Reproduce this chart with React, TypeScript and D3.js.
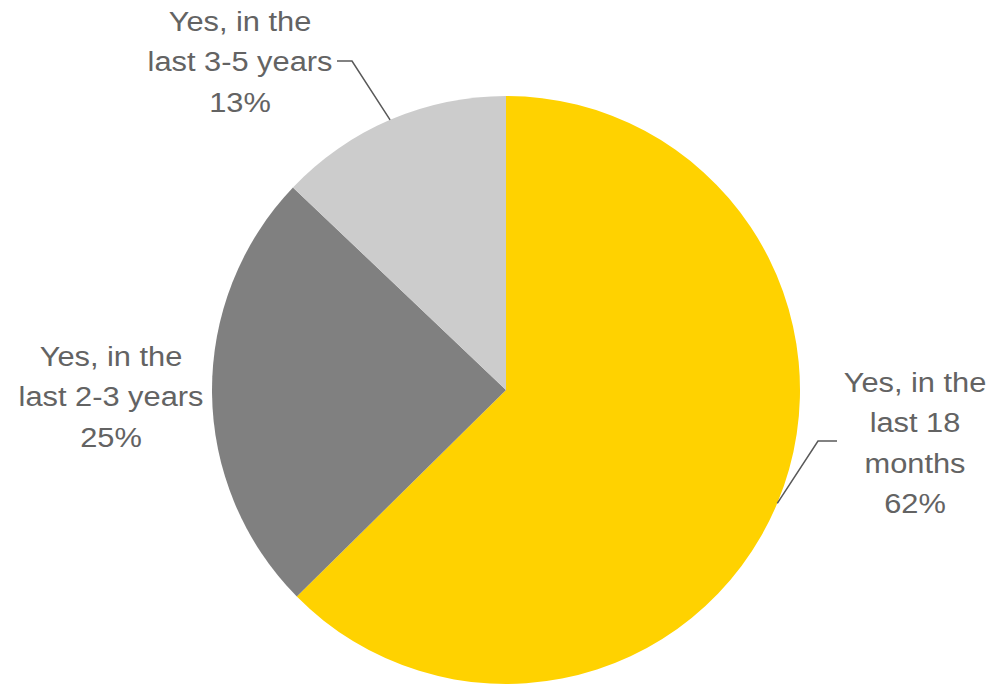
import React from "react";
import * as d3 from "d3";

const categories = ["Yes, in the last 18 months", "Yes, in the last 2-3 years", "Yes, in the last 3-5 years"];
const values = [62.6, 24.5, 12.9];
const labelLines = [
  ["Yes, in the", "last 18", "months", "62%"],
  ["Yes, in the", "last 2-3 years", "25%"],
  ["Yes, in the", "last 3-5 years", "13%"],
];
const colors = ["#FFD200", "#808080", "#CCCCCC"];

export default function App() {
  const W = 994, H = 685;
  const cx = 506, cy = 390, r = 294;
  const pie = d3.pie<number>().sort(null).value((d) => d);
  const arcs = pie(values);
  const arc = d3.arc<d3.PieArcDatum<number>>().innerRadius(0).outerRadius(r);
  const edge = d3.arc<d3.PieArcDatum<number>>().innerRadius(r).outerRadius(r);

  const layout = [
    { x: 915, y: 392, leader: { elbowX: 818, elbowY: 441, endX: 837 } },
    { x: 111, y: 366, leader: null },
    { x: 240, y: 31, leader: { elbowX: 352, elbowY: 61, endX: 337 } },
  ];
  const lineH = 40.3;

  return (
    <svg width={W} height={H} style={{ position: "absolute", left: 0, top: 0 }}>
      <rect width={W} height={H} fill="#fff" />
      <g transform={`translate(${cx},${cy})`}>
        {arcs.map((a, i) => (
          <path key={categories[i]} d={arc(a) || ""} fill={colors[i]} />
        ))}
      </g>
      {arcs.map((a, i) => {
        const L = layout[i];
        if (!L.leader) return null;
        const [ex, ey] = edge.centroid(a);
        const px = cx + ex, py = cy + ey;
        return (
          <polyline
            key={"l" + i}
            points={`${px},${py} ${L.leader.elbowX},${L.leader.elbowY} ${L.leader.endX},${L.leader.elbowY}`}
            fill="none"
            stroke="#595959"
            strokeWidth={1.5}
          />
        );
      })}
      {labelLines.map((lines, i) => {
        const L = layout[i];
        return (
          <text
            key={"t" + i}
            transform={`translate(${L.x},${L.y}) scale(1.1,1)`}
            textAnchor="middle"
            fontFamily="'Liberation Sans', Arial, sans-serif"
            fontSize={28}
            fill="#636363"
          >
            {lines.map((s, j) => (
              <tspan key={j} x={0} y={j * lineH}>
                {s}
              </tspan>
            ))}
          </text>
        );
      })}
    </svg>
  );
}
